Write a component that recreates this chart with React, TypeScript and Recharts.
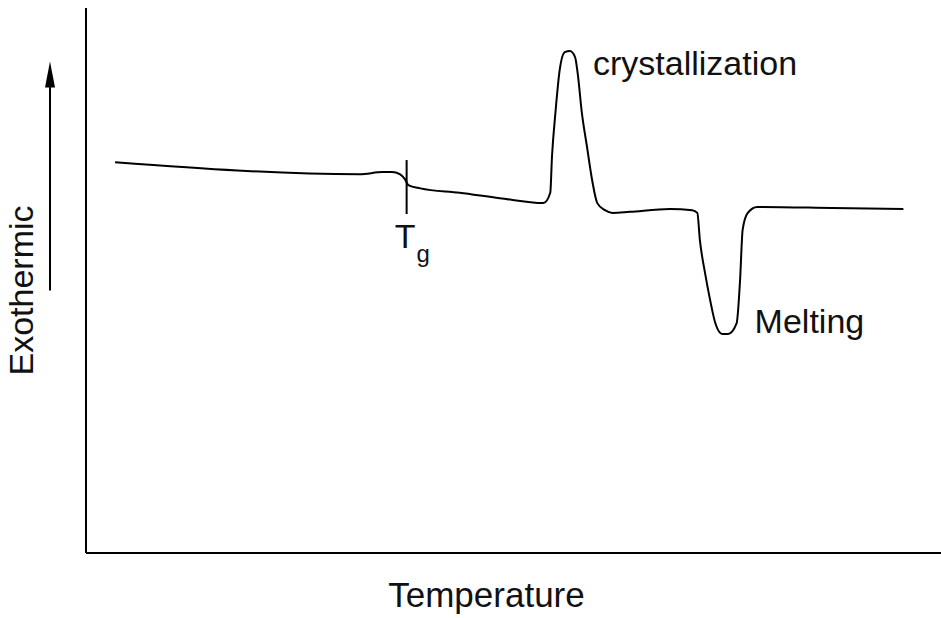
import { LineChart, Line, XAxis, YAxis, ReferenceLine, ReferenceDot } from 'recharts';

// DSC curve, arbitrary units (temperature 0-100, heat flow 0-100)
const temperature = [
  3.4, 32.0, 34.7, 35.8, 36.7, 37.3, 37.7, 39.1, 43.7, 48.4, 53.5,
  54.3, 54.5, 54.9, 55.4, 56.0, 56.6, 57.2, 57.5, 58.0, 58.6, 59.2, 59.8,
  60.7, 61.6, 63.6, 68.3, 70.9, 71.5, 71.8, 72.4, 73.0, 73.6, 74.4, 75.1,
  76.1, 76.5, 76.8, 77.4, 78.5, 87.3, 95.6,
];
const heatFlow = [
  71.7, 69.5, 69.9, 69.9, 69.5, 68.6, 67.5, 66.9, 66.1, 65.1, 64.2,
  66.1, 72.7, 80.7, 88.6, 91.9, 92.1, 91.0, 88.1, 80.7, 74.5, 68.4, 64.2,
  62.9, 62.4, 62.6, 63.1, 62.9, 62.4, 57.4, 51.4, 46.4, 42.2, 40.2, 40.2,
  42.2, 50.1, 59.3, 62.4, 63.5, 63.3, 63.1,
];

const annotationText = ['crystallization', 'Melting'];
const annotationT = [59.3, 78.2];
const annotationH = [87.7, 40.4];

const tgT = 37.5;
const tgRange = [72.1, 62.2];
const tgLabelT = 36.1;
const tgLabelH = 56.0;

const font = '"Liberation Sans", Arial, sans-serif';

const data = temperature.map((t, i) => ({ t, h: heatFlow[i] }));

const TextAt = (text: string) => (props: any) => {
  const vb = props.viewBox || {};
  const x = vb.x + (vb.width || 0) / 2;
  const y = vb.y + (vb.height || 0) / 2;
  return (
    <text x={x} y={y} fontSize={34} fontFamily={font} fill="#111">
      {text}
    </text>
  );
};

const TgLabel = (props: any) => {
  const vb = props.viewBox || {};
  const x = vb.x + (vb.width || 0) / 2;
  const y = vb.y + (vb.height || 0) / 2;
  return (
    <text x={x} y={y} fontSize={34} fontFamily={font} fill="#111">
      T
      <tspan fontSize={24} dy={14} dx={1}>g</tspan>
    </text>
  );
};

const YLabel = (props: any) => {
  const vb = props.viewBox;
  const cy = vb.y + vb.height / 2 + 10;
  return (
    <g>
      <text
        x={33}
        y={cy}
        transform={`rotate(-90, 33, ${cy})`}
        textAnchor="middle"
        fontSize={34}
        fontFamily={font}
        fill="#111"
      >
        Exothermic
      </text>
      <line x1={50} y1={cy} x2={50} y2={cy - 220} stroke="#000" strokeWidth={2} />
      <polygon points={`50,${cy - 229} 45,${cy - 203} 55,${cy - 203}`} fill="#000" />
    </g>
  );
};

const XLabel = (props: any) => {
  const vb = props.viewBox;
  const cx = vb.x + vb.width / 2 - 27;
  return (
    <text x={cx} y={vb.y + 54} textAnchor="middle" fontSize={35} fontFamily={font} fill="#111">
      Temperature
    </text>
  );
};

export default function App() {
  return (
    <div style={{ width: 941, height: 618, background: '#fff' }}>
      <style>{'body{margin:0;overflow:hidden;background:#fff}'}</style>
      <LineChart
        width={941}
        height={618}
        data={data}
        margin={{ top: 8, right: 0, bottom: 0, left: 0 }}
      >
        <XAxis
          dataKey="t"
          type="number"
          domain={[0, 100]}
          height={65}
          tick={false}
          tickLine={false}
          axisLine={{ stroke: '#000', strokeWidth: 2 }}
          label={<XLabel />}
        />
        <YAxis
          type="number"
          domain={[0, 100]}
          width={86}
          tick={false}
          tickLine={false}
          axisLine={{ stroke: '#000', strokeWidth: 2 }}
          label={<YLabel />}
        />
        <Line
          type="monotone"
          dataKey="h"
          stroke="#000"
          strokeWidth={2}
          dot={false}
          isAnimationActive={false}
        />
        <ReferenceLine
          segment={[{ x: tgT, y: tgRange[0] }, { x: tgT, y: tgRange[1] }]}
          stroke="#000"
          strokeWidth={2}
        />
        <ReferenceDot x={tgLabelT} y={tgLabelH} r={0} fill="none" stroke="none" label={<TgLabel />} />
        {annotationText.map((text, i) => (
          <ReferenceDot
            key={text}
            x={annotationT[i]}
            y={annotationH[i]}
            r={0}
            fill="none"
            stroke="none"
            label={TextAt(text)}
          />
        ))}
      </LineChart>
    </div>
  );
}
